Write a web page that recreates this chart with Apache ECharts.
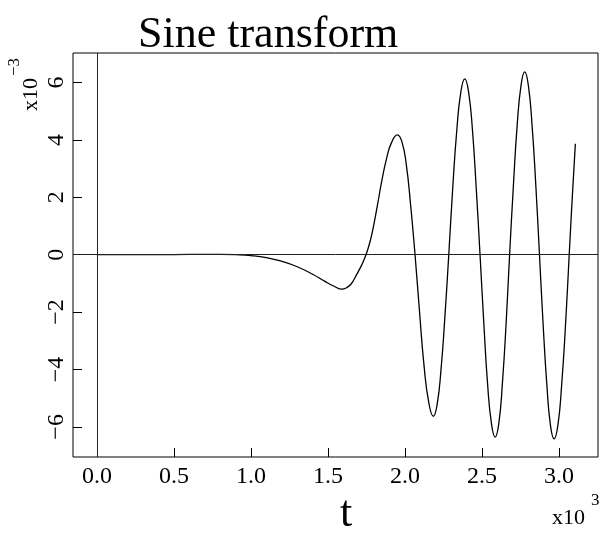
<!DOCTYPE html>
<html>
<head>
    <meta charset="utf-8">
    <title>Sine transform</title>
    <script src="https://cdn.jsdelivr.net/npm/echarts@6/dist/echarts.min.js"></script>
    <style>
        html, body { margin: 0; padding: 0; background: #fff; }
        #chart { width: 605px; height: 540px; }
    </style>
</head>
<body>
<div id="chart"></div>
<script>
    // t in units of 10^3, value in units of 10^-3
    var tValues = [0.00, 0.20, 0.40, 0.60, 0.80, 0.90, 1.00, 1.10, 1.20, 1.30, 1.40, 1.48, 1.54, 1.59, 1.62, 1.65, 1.68, 1.71, 1.73, 1.75,
        1.77, 1.79, 1.82, 1.85, 1.88, 1.91, 1.95, 1.979, 2.008, 2.036, 2.065,
        2.095, 2.124, 2.154, 2.184, 2.209, 2.234, 2.259, 2.284,
        2.310, 2.336, 2.362, 2.388, 2.413, 2.438, 2.462, 2.487,
        2.512, 2.536, 2.561, 2.585, 2.609, 2.632, 2.656, 2.679,
        2.704, 2.728, 2.753, 2.777, 2.801, 2.825, 2.849, 2.873,
        2.897, 2.921, 2.944, 2.968, 2.993, 3.017, 3.042, 3.066,
        3.086, 3.106];
    var sineValues = [0.00, 0.00, 0.00, 0.01, 0.01, 0.00, -0.03, -0.10, -0.23, -0.42, -0.68, -0.93, -1.10, -1.20, -1.15, -1.02, -0.75, -0.45, -0.22, 0.05,
        0.40, 0.85, 1.70, 2.60, 3.35, 3.88, 4.18, 3.95, 3.15, 1.75, 0.00,
        -2.05, -3.90, -5.15, -5.63, -5.20, -3.98, -2.15, 0.00,
        2.35, 4.33, 5.66, 6.13, 5.66, 4.33, 2.35, 0.00,
        -2.43, -4.50, -5.88, -6.36, -5.88, -4.50, -2.43, 0.00,
        2.44, 4.50, 5.89, 6.37, 5.89, 4.50, 2.44, 0.00,
        -2.46, -4.54, -5.93, -6.42, -5.93, -4.54, -2.46, 0.00,
        2.00, 3.87];
    var xTicks = [0, 0.5, 1.0, 1.5, 2.0, 2.5, 3.0];
    var yTicks = [-6, -4, -2, 0, 2, 4, 6];

    var serif = 'Liberation Serif';
    var xMin = -0.156, xMax = 3.253;
    var yMin = -7.05, yMax = 7.03;
    var points = tValues.map(function (t, i) { return [t, sineValues[i]]; });

    var myChart = echarts.init(document.getElementById('chart'));
    var option = {
        animation: false,
        title: {
            text: 'Sine transform',
            left: 133,
            top: 8,
            textStyle: {fontFamily: serif, fontSize: 44, fontWeight: 'normal', color: '#000'}
        },
        grid: {
            left: 73, right: 7, top: 53, bottom: 83,
            show: true, borderColor: '#000', borderWidth: 1,
            outerBoundsMode: 'none'
        },
        xAxis: {
            type: 'value', min: xMin, max: xMax,
            axisLine: {show: false, onZero: false},
            splitLine: {show: false},
            axisTick: {inside: true, length: 9, lineStyle: {color: '#000'}, customValues: xTicks},
            axisLabel: {
                customValues: xTicks,
                margin: 8,
                fontFamily: serif, fontSize: 24, color: '#000',
                formatter: function (v) { return v.toFixed(1); }
            }
        },
        yAxis: {
            type: 'value', min: yMin, max: yMax,
            axisLine: {show: false, onZero: false},
            splitLine: {show: false},
            axisTick: {inside: true, length: 9, lineStyle: {color: '#000'}, customValues: yTicks},
            axisLabel: {
                customValues: yTicks,
                rotate: 90,
                margin: 4,
                fontFamily: serif, fontSize: 24, color: '#000',
                formatter: function (v) { return String(v).replace('-', '\u2212'); }
            }
        },
        graphic: [
            {type: 'text', x: 346, y: 492, style: {text: 't', font: '44px "Liberation Serif"', fill: '#000', textAlign: 'center', textVerticalAlign: 'top'}},
            {type: 'text', x: 552, y: 529, style: {text: 'x10', font: '22px "Liberation Serif"', fill: '#000', textAlign: 'left', textVerticalAlign: 'bottom'}},
            {type: 'text', x: 591, y: 509, style: {text: '3', font: '17px "Liberation Serif"', fill: '#000', textAlign: 'left', textVerticalAlign: 'bottom'}},
            {type: 'text', x: 42, y: 111, rotation: Math.PI / 2, style: {text: 'x10', font: '22px "Liberation Serif"', fill: '#000', textAlign: 'left', textVerticalAlign: 'bottom'}},
            {type: 'text', x: 23, y: 76, rotation: Math.PI / 2, style: {text: '\u22123', font: '17px "Liberation Serif"', fill: '#000', textAlign: 'left', textVerticalAlign: 'bottom'}}
        ],
        series: [
            {
                name: 'sine',
                type: 'line',
                data: points,
                smooth: true,
                showSymbol: false,
                symbol: 'none',
                lineStyle: {color: '#000', width: 1.3},
                markLine: {
                    silent: true,
                    symbol: 'none',
                    label: {show: false},
                    lineStyle: {color: '#222', width: 1, type: 'solid'},
                    data: [{xAxis: 0}, {yAxis: 0}]
                }
            }
        ]
    };
    myChart.setOption(option);
</script>
</body>
</html>
